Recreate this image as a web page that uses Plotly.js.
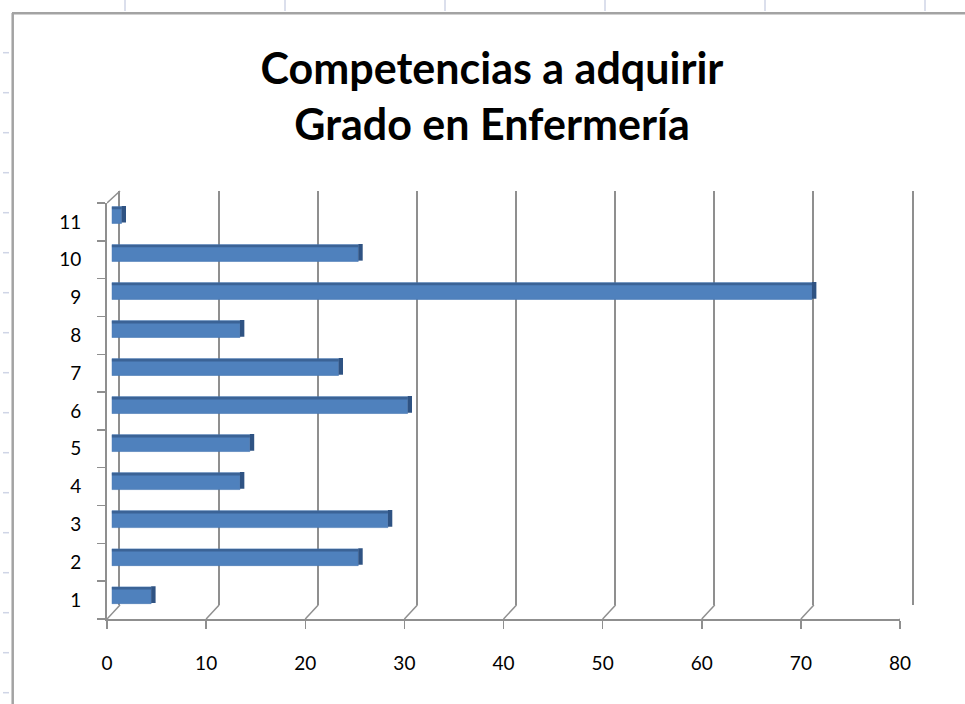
<!DOCTYPE html>
<html>
<head>
<meta charset="utf-8">
<script src="https://cdn.plot.ly/plotly-3.0.1.min.js"></script>
<style>html,body{margin:0;padding:0;background:#fff;}#chart{width:965px;height:704px;}</style>
</head>
<body>
<div id="chart"></div>
<script>
// ---- data ----
const categories = ['1','2','3','4','5','6','7','8','9','10','11'];
const categoryNums = [1,2,3,4,5,6,7,8,9,10,11];
const values = [4,25,28,13,14,30,23,13,71,25,1];
const xTicks = [0,10,20,30,40,50,60,70,80];
const titleLines = ['Competencias a adquirir','Grado en Enfermería'];

// ---- layout helpers (pixel -> paper) ----
const W = 965, H = 704;
const px = v => v / W;
const py = v => 1 - v / H;

const gridCol = '#8f8f8f';
const fontFam = 'Lato, "Open Sans", sans-serif';

const traces = [
  {type:'scatter', x: categories.map(()=>0), y: categories, xaxis:'x', yaxis:'y',
   mode:'markers', marker:{opacity:0,size:1}, hoverinfo:'skip', showlegend:false},
  {type:'scatter', x:[0], y:[0], xaxis:'x2', yaxis:'y2',
   mode:'markers', marker:{opacity:0,size:1}, hoverinfo:'skip', showlegend:false},
  {type:'bar', orientation:'h', x: values, y: categoryNums, xaxis:'x3', yaxis:'y3',
   width:0.44, offset:-0.22, marker:{color:'#4F81BD', line:{color:'#4677B3', width:0.6}},
   showlegend:false, hoverinfo:'x'},
  {type:'bar', orientation:'h', x: values, y: categoryNums, xaxis:'x3', yaxis:'y3',
   width:0.07, offset:0.15, marker:{color:'#3B6396', line:{width:0}},
   showlegend:false, hoverinfo:'skip'},
  {type:'bar', orientation:'h', x: values.map(()=>0.45), base: values, y: categoryNums, xaxis:'x3', yaxis:'y3',
   width:0.44, offset:-0.2, marker:{color:'#2F5383', line:{width:0}},
   showlegend:false, hoverinfo:'skip'}
];

const shapes = [];
shapes.push({type:'line', xref:'paper', yref:'paper', x0:px(12.7), x1:px(12.7), y0:py(13), y1:0, line:{color:'#a3a3a3', width:2.5}});
shapes.push({type:'line', xref:'paper', yref:'paper', x0:px(12), x1:1, y0:py(13.3), y1:py(13.3), line:{color:'#a3a3a3', width:2.5}});
[125,285,445,605,765,925].forEach(x => shapes.push({type:'line', xref:'paper', yref:'paper', x0:px(x), x1:px(x), y0:1, y1:py(11), line:{color:'#cfd5e6', width:1.5}}));
for (let y = 52.7; y < H; y += 40) shapes.push({type:'line', xref:'paper', yref:'paper', x0:px(3), x1:px(9), y0:py(y), y1:py(y), line:{color:'#cfd5e6', width:1.5}});
xTicks.forEach(v => shapes.push({type:'line', xref:'x', yref:'paper', xsizemode:'pixel', xanchor:v, x0:0, x1:13,
  ysizemode:'pixel', yanchor:py(619), y0:0, y1:14, line:{color:gridCol, width:1.5}}));
shapes.push({type:'line', xref:'x', yref:'paper', xsizemode:'pixel', xanchor:0, x0:0, x1:13,
  ysizemode:'pixel', yanchor:py(203), y0:0, y1:12, line:{color:gridCol, width:1.5}});

const layout = {
  width: W, height: H,
  margin:{l:0,r:0,t:0,b:0},
  paper_bgcolor:'#ffffff', plot_bgcolor:'rgba(0,0,0,0)',
  barmode:'overlay',
  showlegend:false,
  title:{text: titleLines.join('<br>'), x:px(492), xanchor:'center', y:py(84), yanchor:'top',
         font:{family:fontFam, size:43, color:'#000', weight:'bold'}},
  font:{family:fontFam, color:'#000'},
  xaxis:{domain:[px(107), px(900)], range:[0,80], anchor:'y', tickmode:'array', tickvals:xTicks,
         ticks:'outside', ticklen:8, tickwidth:1.5, tickcolor:gridCol, showline:true, linecolor:gridCol, linewidth:2,
         showgrid:false, zeroline:false, tickfont:{size:19, family:fontFam, color:'#000'}, ticklabelstandoff:18, fixedrange:true},
  yaxis:{domain:[py(619), py(203)], type:'category', categoryorder:'array', categoryarray:categories,
         range:[-0.5,10.5], anchor:'x', tickson:'boundaries', ticks:'outside', ticklen:8, tickwidth:1.5, tickcolor:gridCol,
         showline:true, linecolor:gridCol, linewidth:2, showgrid:false, zeroline:false,
         tickfont:{size:19, family:fontFam, color:'#000'}, ticklabelstandoff:20, fixedrange:true},
  xaxis2:{domain:[px(120), px(912)], range:[0,80], anchor:'y2', dtick:10, tick0:0, showgrid:true, gridcolor:gridCol, gridwidth:2,
          showticklabels:false, ticks:'', zeroline:false, showline:false, fixedrange:true},
  yaxis2:{domain:[py(605), py(191)], range:[0,1], anchor:'x2', showgrid:false, showticklabels:false, zeroline:false,
          showline:true, mirror:true, linecolor:gridCol, linewidth:2, ticks:'', fixedrange:true},
  xaxis3:{domain:[px(111.7), px(900.7)], range:[0,80], anchor:'y3', visible:false, fixedrange:true},
  yaxis3:{domain:[py(614.3), py(196)], range:[0.5,11.5], anchor:'x3', visible:false, fixedrange:true},
  shapes: shapes
};

Plotly.newPlot('chart', traces, layout, {displayModeBar:false, staticPlot:true});
</script>
</body>
</html>
